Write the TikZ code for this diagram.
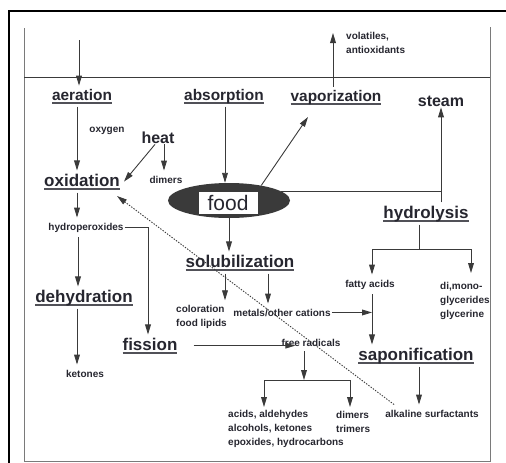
\documentclass[tikz,border=0pt]{standalone}
\usepackage{fontspec}
\setmainfont{Liberation Sans}
\usetikzlibrary{arrows.meta,shapes.geometric,calc}
\definecolor{ink}{HTML}{26262F}
\definecolor{wire}{HTML}{3A3A3A}
\definecolor{wall}{HTML}{7A7A7A}
\newcommand\myul[1]{\leavevmode\setbox0\hbox{#1}\rlap{\color{ink!80}\vrule width\wd0 height -2.2pt depth 3.5pt}\box0}
\tikzset{
  topl/.style={font=\bfseries\fontsize{15.4}{17}\selectfont, text=ink, inner xsep=1pt, inner ysep=3pt},
  big/.style={font=\bfseries\fontsize{17}{19}\selectfont, text=ink, inner xsep=1pt, inner ysep=3pt},
  plainbig/.style={font=\bfseries\fontsize{16}{18}\selectfont, text=ink, inner xsep=1pt, inner ysep=1pt},
  small/.style={font=\bfseries\fontsize{10}{13.7}\selectfont, text=ink, inner xsep=1pt, inner ysep=5pt},
  conn/.style={draw=wire, line width=0.9pt},
  arr/.style={conn, -{Triangle[length=10pt,width=5.8pt]}},
  dots/.style={conn, dash pattern=on 1.4pt off 1.4pt, -{Triangle[length=10pt,width=5.8pt]}},
}
\begin{document}
\begin{tikzpicture}[x=1pt,y=-1pt]
\useasboundingbox (0,0) rectangle (506,463);
% frame
\draw[black, line width=1.8pt] (9,463) -- (9,11) -- (506,11);
% vessel
\draw[wall, line width=1pt] (24,28) -- (24,461) -- (490,461) -- (490,27);
\draw[wire, line width=0.9pt] (24,77) -- (490,77);

% nodes
\node[topl, anchor=base] (aer) at (82,100) {\myul{aeration}};
\node[topl, anchor=base] (abs) at (224,100) {\myul{absorption}};
\node[topl, anchor=base] (vap) at (336,101) {\myul{vaporization}};
\node[plainbig, anchor=base] (steam) at (441,106) {steam};
\node[small, anchor=west, align=left] (vol) at (345,43) {volatiles,\\antioxidants};
\node[small, anchor=base] (oxy) at (107,132) {oxygen};
\node[plainbig, anchor=base] (heat) at (158,143) {heat};
\node[small, anchor=base] (dim1) at (166,183) {dimers};
\node[big, anchor=base] (oxi) at (82,186) {\myul{oxidation}};
\node[ellipse, fill=wire, minimum width=122pt, minimum height=35pt, inner sep=0pt] (foodell) at (229,200.5) {};
\node[draw=wire, line width=0.6pt, fill=white, minimum width=60pt, minimum height=23pt, inner sep=0pt,
      font=\fontsize{21}{21}\selectfont, text=ink] (food) at (228,202.5) {food};
\node[big, anchor=base] (hyd) at (426,218) {\myul{hydrolysis}};
\node[small, anchor=base] (hper) at (86,230) {hydroperoxides};
\node[big, anchor=base] (sol) at (240,267) {\myul{solubilization}};
\node[small, anchor=west, align=left] (col) at (175,317) {coloration\\food lipids};
\node[small, anchor=base] (met) at (282,316) {metals/other cations};
\node[small, anchor=base] (fat) at (370,287) {fatty acids};
\node[small, anchor=west, align=left] (glyc) at (439,301) {di,mono-\\glycerides\\glycerine};
\node[big, anchor=base] (deh) at (84,302) {\myul{dehydration}};
\node[big, anchor=base] (fis) at (150,350) {\myul{fission}};
\node[small, anchor=base] (frad) at (311,346) {free radicals};
\node[big, anchor=base] (sap) at (416,360) {\myul{saponification}};
\node[small, anchor=base] (ket) at (85,377) {ketones};
\node[small, anchor=west, align=left] (acids) at (227,429) {acids, aldehydes\\alcohols, ketones\\epoxides, hydrocarbons};
\node[small, anchor=west, align=left] (dim2) at (335,422) {dimers\\trimers};
\node[small, anchor=base] (alk) at (432,417) {alkaline surfactants};

% free-end coordinates
\coordinate (airtop) at (79,40);
\coordinate (voltip) at (333,33);
\coordinate (vaptip) at (308,117);
\coordinate (hbr) at (419,249);
\coordinate (gtip) at (471,273);
\coordinate (fbr) at (304,380);
\coordinate (at1) at (264,407);
\coordinate (at2) at (350,407);
\coordinate (dtip) at (117,196);

% connectors
\draw[arr] (airtop) -- (airtop |- aer.north);
\draw[arr] ([xshift=-5pt]aer.south) -- ([xshift=-5pt]oxi.north);
\draw[arr] ([xshift=1pt]abs.south) -- ([xshift=1pt]abs.south |- foodell.north);
\draw[arr] ([xshift=-3pt]vap.north) -- (voltip);
\draw[arr] (foodell.25) -- (vaptip);
\draw[conn] (foodell.10) -- (foodell.10 -| steam.south);
\draw[arr] (hyd.north -| steam.south) -- (steam.south);
\draw[arr] ([xshift=6pt]heat.south) -- ([xshift=6pt]heat.south |- dim1.north);
\draw[arr] ([xshift=-3pt]heat.south) -- ([xshift=3pt]oxi.east);
\draw[arr] ([xshift=-5pt]oxi.south) -- ([xshift=-5pt]oxi.south |- hper.north);
\draw[arr] ([xshift=-8pt]hper.south) -- ([xshift=-8pt]hper.south |- deh.north);
\draw[arr] (hper.east) -| ([xshift=-2pt]fis.north);
\draw[arr] ([xshift=-7pt]deh.south) -- ([xshift=-7pt]deh.south |- ket.north);
\draw[arr] (foodell.south) -- (foodell.south |- sol.north);
\draw[arr] ([xshift=-15pt]sol.south) -- ([xshift=-15pt]sol.south |- col.north);
\draw[arr] ([xshift=28pt]sol.south) -- ([xshift=28pt]sol.south |- met.north);
\draw[arr] (met.east) -- ([xshift=2pt]met.east -| fat.south);
\draw[arr] ([xshift=2pt]fat.south) -- ([xshift=2pt]fat.south |- sap.north);
\draw[conn] ([xshift=-7pt]hyd.south) -- (hbr);
\draw[arr] (hbr) -| ([xshift=2pt]fat.north);
\draw[arr] (hbr) -| (gtip);
\draw[arr] ([xshift=3pt]sap.south) -- ([xshift=3pt]sap.south |- alk.north);
\draw[arr] ([xshift=15pt]fis.east) -- ([xshift=15pt]fis.east -| frad.west);
\draw[arr] ([xshift=-7pt]frad.south) -- (fbr);
\draw[arr] (fbr) -| (at1);
\draw[arr] (fbr) -| (at2);
\draw[dots] ([xshift=10pt]alk.north west) -- (dtip);
\end{tikzpicture}
\end{document}
